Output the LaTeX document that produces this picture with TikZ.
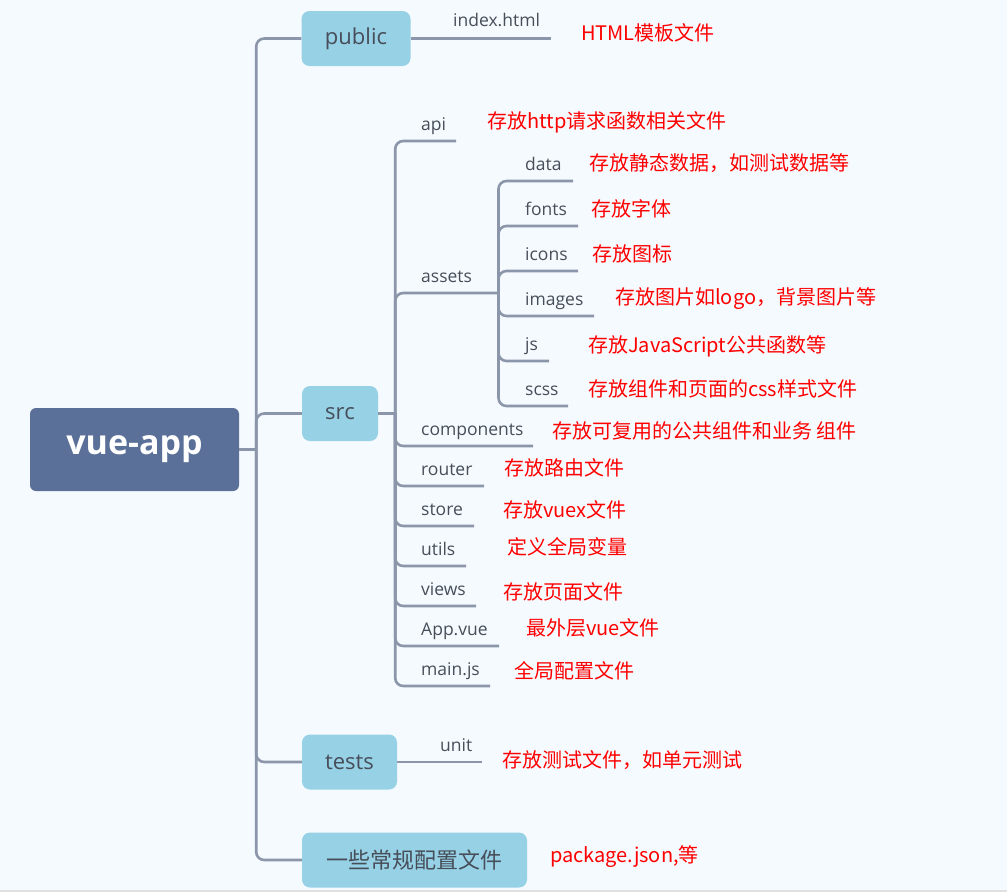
\documentclass[tikz,border=0pt]{standalone}
\usepackage{fontspec}
\setmainfont{Open Sans}
\newfontfamily\cjk{Noto Sans CJK SC}
\usetikzlibrary{positioning}
\definecolor{paper}{HTML}{F5FAFE}
\definecolor{rootblue}{HTML}{5A7098}
\definecolor{boxblue}{HTML}{96D1E6}
\definecolor{linegray}{HTML}{8C96AB}
\definecolor{leafgray}{HTML}{474E59}
\definecolor{notered}{HTML}{FF0000}

\tikzset{
  rootbox/.style={fill=rootblue, rounded corners=6pt, text=white, inner sep=0pt,
    font=\bfseries\fontsize{34}{40}\selectfont, minimum width=209pt, minimum height=83pt},
  dirbox/.style={fill=boxblue, rounded corners=8pt, text=leafgray, inner sep=0pt,
    font=\fontsize{22}{26}\selectfont, minimum height=55pt},
  leaf/.style={anchor=base west, inner sep=0pt, text=leafgray, font=\fontsize{17.5}{21}\selectfont},
  note/.style={anchor=west, inner sep=0pt, text=notered, font=\cjk\fontsize{20}{24}\selectfont},
  link/.style={draw=linegray, line width=2.6pt, rounded corners=8pt},
}

\begin{document}
\begin{tikzpicture}[x=1pt, y=-1pt]
  \fill[paper] (0,0) rectangle (1007,892);
  \useasboundingbox (0,0) rectangle (1007,892);
  \draw[black!12, line width=1.5pt] (0,891) -- (1007,891);

  % root and first level
  \node[rootbox] (root) at (134.5,449.5) {vue-app};
  \node[dirbox, minimum width=109pt] (public) at (356,38.5) {public};
  \node[dirbox, minimum width=76pt] (src) at (340,413.5) {src};
  \node[dirbox, minimum width=95pt] (tests) at (349.5,762) {tests};
  \node[dirbox, minimum width=225pt, font=\cjk\fontsize{22}{26}\selectfont] (cfg) at (414.5,860) {一些常规配置文件};
  \coordinate (rootJ) at ([xshift=17pt]root.east);
  \draw[link] (root.east) -- (rootJ);
  \draw[link] (rootJ) |- (public.west); \draw[link] (rootJ) |- (src.west);
  \draw[link] (rootJ) |- (tests.west); \draw[link] (rootJ) |- (cfg.west);

  % public
  \coordinate (index-e) at (551,38.5);
  \node[leaf] (index) at (453,26) {index.html};
  \draw[link] (public.east) -- (index-e);
  \node[note] (n-index) at (581,33) {HTML模板文件};

  % src
  \coordinate (srcJ) at ([xshift=17pt]src.east);
  \draw[link] (src.east) -- (srcJ);
  \coordinate (api-e) at (456,141);        \node[leaf] (api) at (421,130.5) {api};
  \coordinate (assets-e) at (498.5,293);   \node[leaf] (assets) at (421,282.5) {assets};
  \coordinate (comp-e) at (533,446);       \node[leaf] (comp) at (421,435.5) {components};
  \coordinate (router-e) at (484,486);     \node[leaf] (router) at (421,475.5) {router};
  \coordinate (store-e) at (474,526);      \node[leaf] (store) at (421,515.5) {store};
  \coordinate (utils-e) at (466,566);      \node[leaf] (utils) at (421,555.5) {utils};
  \coordinate (views-e) at (476,606);      \node[leaf] (views) at (421,595.5) {views};
  \coordinate (appvue-e) at (499,646);     \node[leaf] (appvue) at (421,635.5) {App.vue};
  \coordinate (mainjs-e) at (490,686);     \node[leaf] (mainjs) at (421,675.5) {main.js};
  \draw[link] (srcJ) |- (api-e); \draw[link] (srcJ) |- (assets-e);
  \draw[link] (srcJ) |- (comp-e); \draw[link] (srcJ) |- (router-e);
  \draw[link] (srcJ) |- (store-e); \draw[link] (srcJ) |- (utils-e);
  \draw[link] (srcJ) |- (views-e); \draw[link] (srcJ) |- (appvue-e);
  \draw[link] (srcJ) |- (mainjs-e);
  \node[note] (n-api) at (487,122) {存放http请求函数相关文件};
  \node[note] (n-comp) at (552,431) {存放可复用的公共组件和业务 组件};
  \node[note] (n-router) at (504,468) {存放路由文件};
  \node[note] (n-store) at (503,510) {存放vuex文件};
  \node[note] (n-utils) at (507,547) {定义全局变量};
  \node[note] (n-views) at (503,592) {存放页面文件};
  \node[note] (n-appvue) at (526,628) {最外层vue文件};
  \node[note] (n-mainjs) at (514,671) {全局配置文件};

  % assets
  \coordinate (data-e) at (573,181);       \node[leaf] (data) at (525,170) {data};
  \coordinate (fonts-e) at (578,226);      \node[leaf] (fonts) at (525,215) {fonts};
  \coordinate (icons-e) at (578,271);      \node[leaf] (icons) at (525,260) {icons};
  \coordinate (images-e) at (594,316);     \node[leaf] (images) at (525,305) {images};
  \coordinate (js-e) at (549,361);         \node[leaf] (js) at (525,350) {js};
  \coordinate (scss-e) at (568,406);       \node[leaf] (scss) at (525,395) {scss};
  \draw[link] (assets-e) |- (data-e); \draw[link] (assets-e) |- (fonts-e);
  \draw[link] (assets-e) |- (icons-e); \draw[link] (assets-e) |- (images-e);
  \draw[link] (assets-e) |- (js-e); \draw[link] (assets-e) |- (scss-e);
  \node[note] (n-data) at (589,163) {存放静态数据，如测试数据等};
  \node[note] (n-fonts) at (591,209) {存放字体};
  \node[note] (n-icons) at (592,254) {存放图标};
  \node[note] (n-images) at (615,299) {存放图片如logo，背景图片等};
  \node[note] (n-js) at (588,346) {存放JavaScript公共函数等};
  \node[note] (n-scss) at (588,389) {存放组件和页面的css样式文件};

  % tests and config
  \coordinate (unit-e) at (482,762);
  \node[leaf] (unit) at (440,751) {unit};
  \draw[link] (tests.east) -- (unit-e);
  \node[note] (n-unit) at (502,760) {存放测试文件，如单元测试};
  \node[note] (n-cfg) at (550,857) {package.json,等};
\end{tikzpicture}
\end{document}
